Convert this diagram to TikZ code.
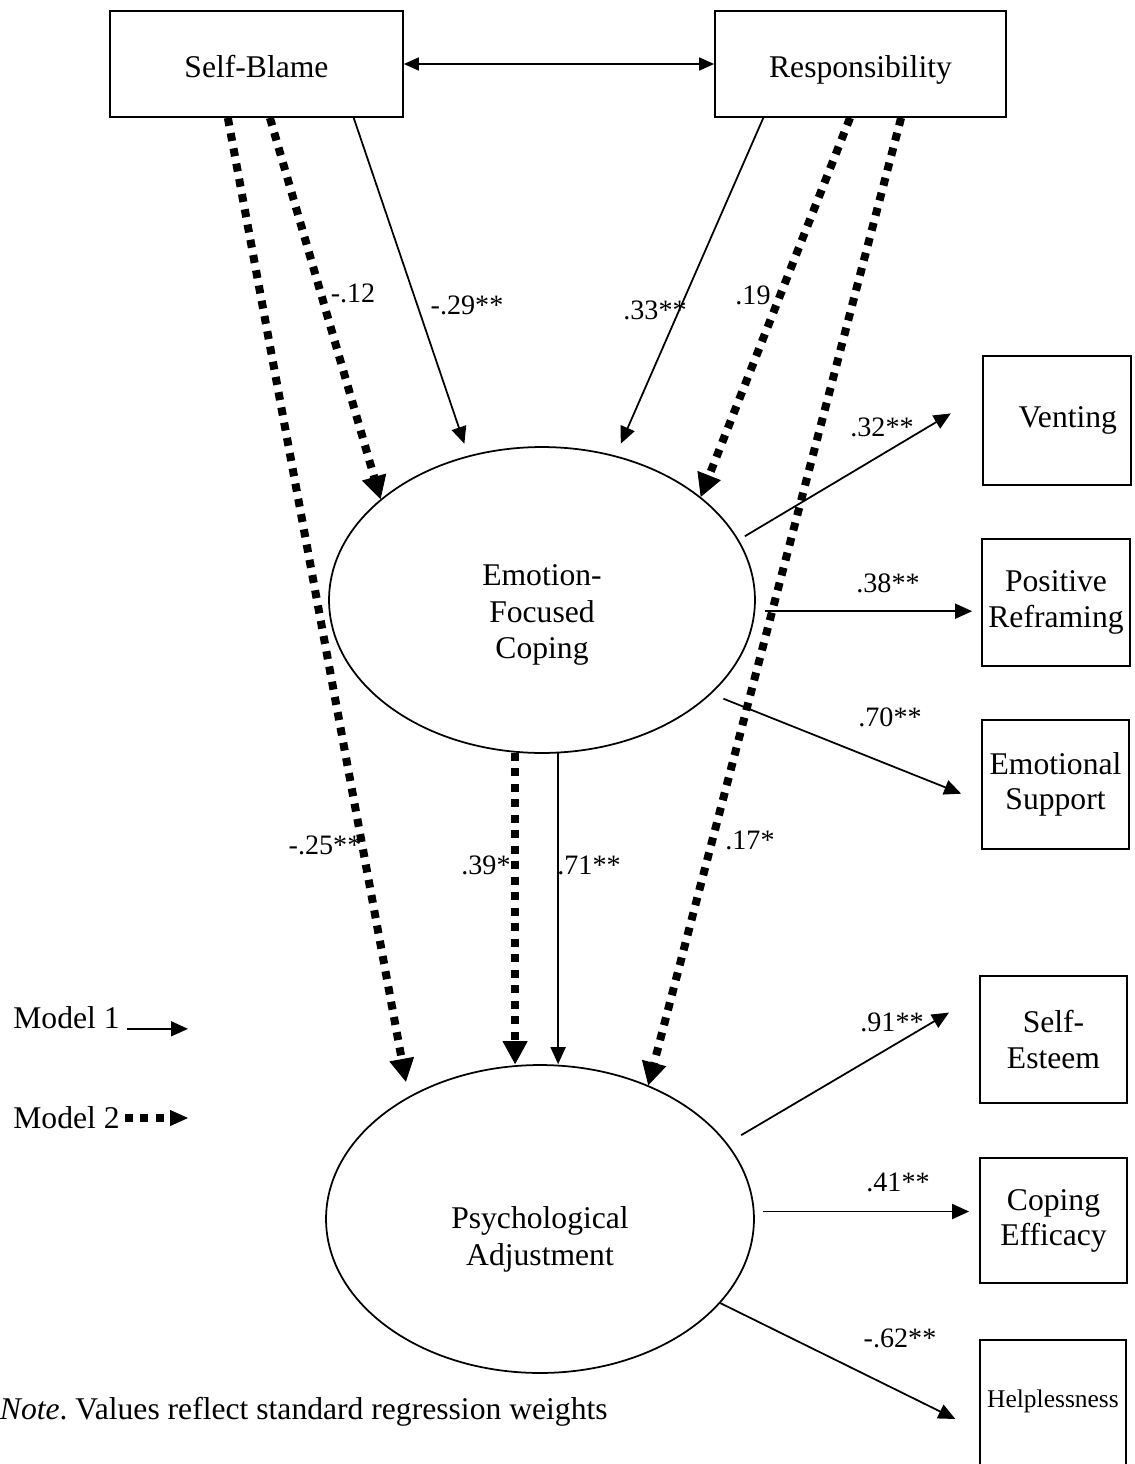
\documentclass[tikz,border=0pt]{standalone}
\usepackage{fontspec}
\setmainfont{Liberation Serif}
\usetikzlibrary{arrows.meta,shapes.geometric}

\tikzset{
  box/.style={draw, line width=1pt, minimum width=2.94cm, minimum height=2.54cm, align=center, font=\fontsize{18}{20}\selectfont},
  topbox/.style={box, minimum height=2.12cm, text height=0.6cm, text depth=0.06cm},
  latent/.style={draw, ellipse, line width=1pt, inner sep=0pt},
  lattext/.style={align=center, font=\fontsize{18}{21}\selectfont},
  wt/.style={inner sep=0pt, font=\fontsize{16}{18}\selectfont},
  legtext/.style={inner sep=0pt, anchor=west, font=\fontsize{18}{20}\selectfont},
  modelone/.style={line width=1pt, -{Triangle[length=0.34cm,width=0.3cm]}},
  modeltwo/.style={line width=0.16cm, dash pattern=on 0.16cm off 0.15cm, -{Triangle[length=0.46cm,width=0.5cm,line width=0.5pt]}},
}

\begin{document}
\begin{tikzpicture}[x=0.02cm, y=-0.02cm]
\path[fill=white, use as bounding box] (0,0) rectangle (1135,1464);

% attributions
\node[topbox, minimum width=5.86cm] (sb) at (256.5,64) {Self-Blame};
\node[topbox, minimum width=5.82cm] (resp) at (860.5,64) {Responsibility};
\draw[line width=1pt, {Triangle[length=0.3cm,width=0.26cm]}-{Triangle[length=0.3cm,width=0.26cm]}] (sb.east) -- (resp.west);

% latent variables
\node[latent, minimum width=8.52cm, minimum height=6.12cm,
  label={[lattext, yshift=-0.3cm]center:Emotion-\\Focused\\Coping}] (efc) at (542,600) {};
\node[latent, minimum width=8.56cm, minimum height=6.16cm,
  label={[lattext, yshift=-0.4cm]center:Psychological\\Adjustment}] (pa) at (540,1219) {};

% indicators
\node[box, minimum width=2.96cm, minimum height=2.58cm, text width=2.4cm, align=right, inner xsep=0.28cm] (vent) at (1057,420.5) {Venting};
\node[box, minimum width=2.96cm] (posr) at (1056,602.5) {Positive\\Reframing};
\node[box, minimum height=2.58cm] (emos) at (1055.5,784.5) {Emotional\\Support};
\node[box] (selfe) at (1053.5,1039.5) {Self-\\Esteem};
\node[box, minimum height=2.5cm] (cope) at (1053.5,1220.5) {Coping\\Efficacy};
\node[box, minimum width=2.92cm, minimum height=3cm, text height=0.35cm, text depth=0.65cm, font=\fontsize{14.5}{16}\selectfont] (help) at (1053,1415) {Helplessness};

% model 1
\draw[modelone, shorten >=0.25cm] (sb.331) -- (efc.117);
\draw[modelone, shorten >=0.26cm] (resp.209) -- (efc.63);
\draw[modelone] (efc.276) -- (efc.276 |- pa.north);
\draw[modelone, shorten <=0.14cm, shorten >=0.73cm] (efc.17) -- (vent.161);
\draw[modelone, shorten <=0.2cm, shorten >=0.18cm] (efc.357) -- (efc.357 -| posr.west);
\draw[modelone, shorten <=0.26cm, shorten >=0.43cm] (efc.331) -- (emos.193);
\draw[modelone, shorten <=0.32cm, shorten >=0.7cm] (pa.22) -- (selfe.149);
\draw[modelone, shorten <=0.16cm, shorten >=0.2cm] (pa.2) -- (pa.2 -| cope.west);
\draw[modelone, shorten >=0.53cm] (pa.335) -- (help.192);

% model 2
\draw[modeltwo] (sb.284) -- (efc.148);
\draw[modeltwo, shorten >=0.3cm] (sb.242) -- (pa.137);
\draw[modeltwo] (resp.259) -- (efc.33);
\draw[modeltwo] (resp.307) -- (pa.51);
\draw[modeltwo] (efc.260) -- (efc.260 |- pa.north);

% weights
\node[wt] (w1) at (353,293) {-.12};
\node[wt] (w2) at (467,305) {-.29**};
\node[wt] (w3) at (655,310) {.33**};
\node[wt] (w4) at (753,295) {.19};
\node[wt] (w5) at (882,427) {.32**};
\node[wt] (w6) at (888,583) {.38**};
\node[wt] (w7) at (890,717) {.70**};
\node[wt] (w8) at (325,845) {-.25**};
\node[wt] (w9) at (486,865) {.39*};
\node[wt] (w10) at (589,865) {.71**};
\node[wt] (w11) at (750,840) {.17*};
\node[wt] (w12) at (892,1022) {.91**};
\node[wt] (w13) at (898,1182) {.41**};
\node[wt] (w14) at (900,1338) {-.62**};

% legend
\node[legtext] (leg1) at (13,1018) {Model 1};
\coordinate (leg1tip) at (188,1028);
\draw[modelone] ([xshift=0.14cm]leg1.base east) -- (leg1.base east -| leg1tip);
\node[legtext] (leg2) at (13,1118) {Model 2};
\coordinate (leg2tip) at (188,1118);
\draw[modeltwo, -{Triangle[length=0.36cm,width=0.32cm,line width=0.5pt]}] ([xshift=0.1cm]leg2.east) -- (leg2.east -| leg2tip);

\node[inner sep=0pt, anchor=east, font=\fontsize{18}{20}\selectfont] (note) at (608,1412) {\textit{Note}.\ Values reflect standard regression weights};
\end{tikzpicture}
\end{document}
